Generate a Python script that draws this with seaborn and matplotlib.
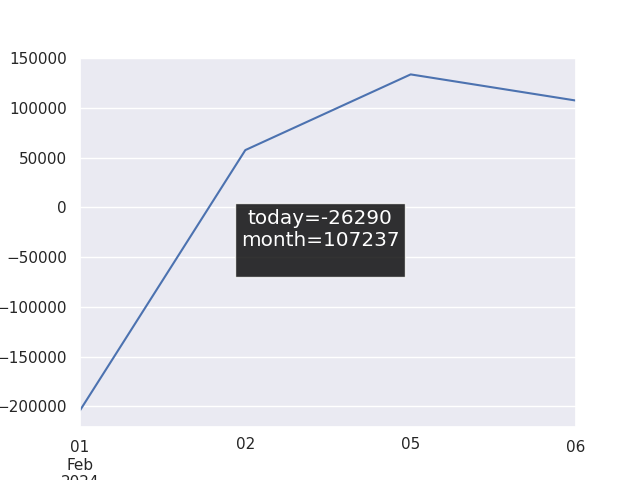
import matplotlib
matplotlib.use("Agg")
import matplotlib.pyplot as plt
import numpy as np
import pandas as pd
import seaborn as sns

sns.set_theme()

# Business days plotted at equal spacing
dates = ["2024-02-01", "2024-02-02", "2024-02-05", "2024-02-06"]
values = [-204000, 57500, 133527, 107237]
today = -26290
month = 107237

df = pd.DataFrame({"date": pd.to_datetime(dates), "value": values})
df["pos"] = np.arange(len(df))

fig, ax = plt.subplots(figsize=(6.4, 4.8), dpi=100)
sns.lineplot(data=df, x="pos", y="value", ax=ax)
ax.set_xlim(df["pos"].iloc[0], df["pos"].iloc[-1])
ax.set_xlabel("")
ax.set_ylabel("")

# major ticks at the ends, minor ticks in between (like pandas' period axis)
first = df["date"].iloc[0]
major_pos = [df["pos"].iloc[0], df["pos"].iloc[-1]]
major_lab = [first.strftime("%d\n%b\n%Y"), df["date"].iloc[-1].strftime("%d")]
minor_pos = list(df["pos"].iloc[1:-1])
minor_lab = [d.strftime("%d") for d in df["date"].iloc[1:-1]]
ax.set_xticks(major_pos)
ax.set_xticklabels(major_lab)
ax.set_xticks(minor_pos, minor=True)
ax.set_xticklabels(minor_lab, minor=True)
ax.grid(False, axis="x", which="both")
ax.tick_params(axis="x", which="minor", labelsize=11)

fig.text(0.5, 0.5, f"today={today}\nmonth={month}\n", ha="center", va="center",
         fontsize="large", color="white", bbox=dict(facecolor="black", alpha=0.8))

fig.savefig("out.png")
